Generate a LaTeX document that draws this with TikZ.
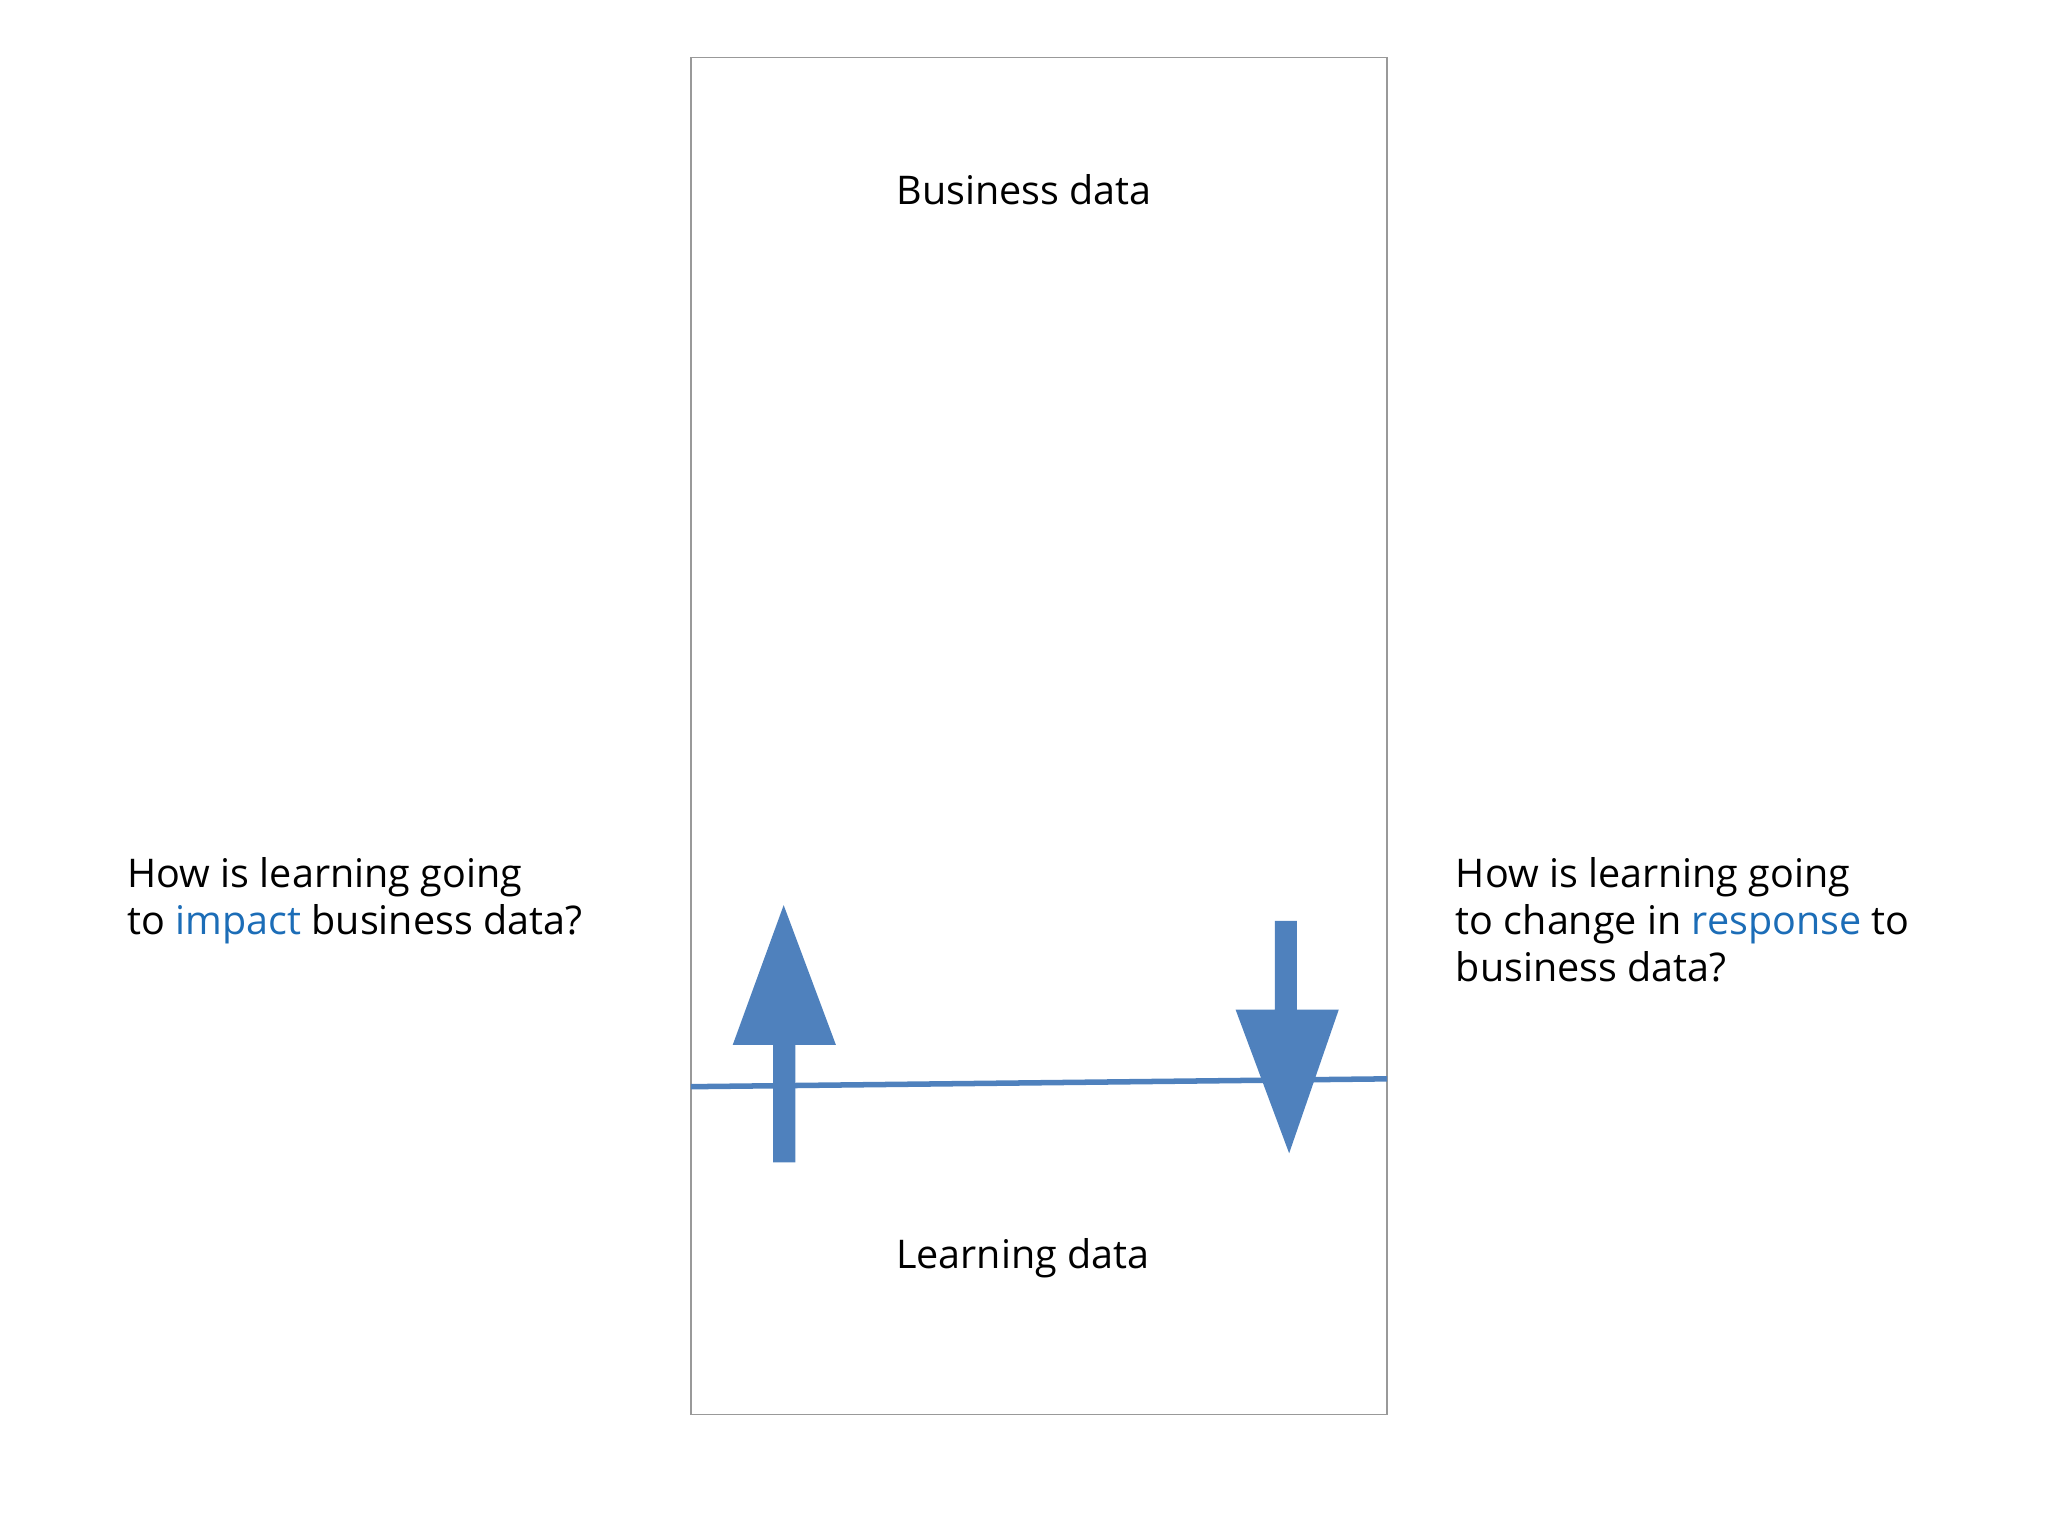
\documentclass[tikz,border=0pt]{standalone}
\usepackage{fontspec}
\setmainfont{Open Sans}
\definecolor{arr}{HTML}{4F81BD}
\definecolor{hl}{HTML}{1C6DB7}
\begin{document}
\begin{tikzpicture}[x=0.01cm,y=-0.01cm,
  lbl/.style={font=\fontsize{8.6}{10.2}\selectfont,inner sep=0pt},
  side/.style={lbl,align=left,anchor=north west},
  fatarrow/.style={fill=arr,draw=none}]
\useasboundingbox (0,0) rectangle (1568,1176);
\draw[gray!80,line width=0.4pt] (529,44) rectangle (1062,1083);
\node[lbl] (bus) at (784,145) {Business data};
\node[lbl] (learn) at (783,963) {Learning data};
\coordinate (la) at (529,832);
\coordinate (lb) at (1062,826);
\draw[arr,line width=1.2pt] (la) -- (lb);
\fill[fatarrow] (592,890) -- (609,890) -- (609,800) -- (640,800) -- (600,693) -- (561,800) -- (592,800) -- cycle;
\fill[fatarrow] (976,705) -- (993,705) -- (993,773) -- (1025,773) -- (987,883) -- (946,773) -- (976,773) -- cycle;
\node[side] (lq) at (97,656) {How is learning going\\to \textcolor{hl}{impact} business data?};
\node[side] (rq) at (1114,656) {How is learning going\\to change in \textcolor{hl}{response} to\\business data?};
\end{tikzpicture}
\end{document}
